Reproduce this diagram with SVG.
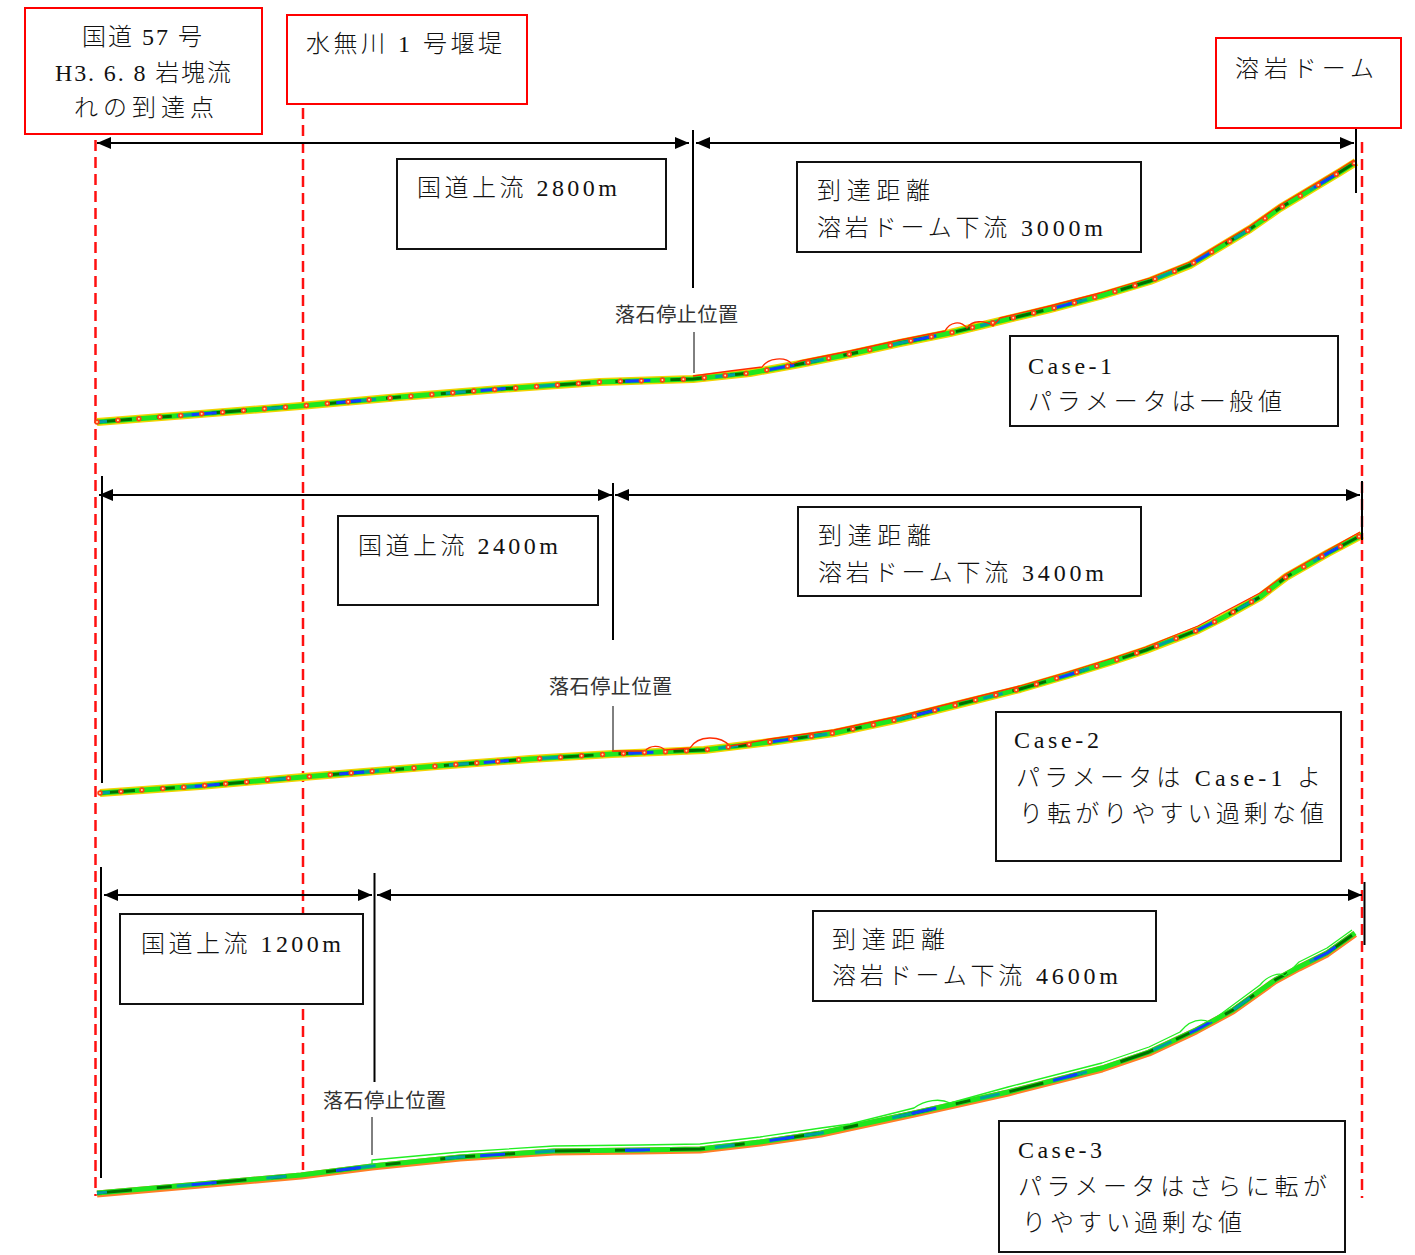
<svg xmlns="http://www.w3.org/2000/svg" xmlns:xlink="http://www.w3.org/1999/xlink" width="1415" height="1255" viewBox="0 0 1415 1255">
<style>
.t{font-family:"Liberation Serif","Noto Sans CJK JP",serif;font-size:24px;font-weight:300;fill:#111;}
.s{font-family:"Noto Sans CJK JP",sans-serif;font-size:20px;fill:#333;}
.rb{fill:#fff;stroke:#ff0000;stroke-width:2;}
.bb{fill:#fff;stroke:#111;stroke-width:2;}
.dash{stroke:#ff1010;stroke-width:2.5;stroke-dasharray:11 6;fill:none;}
.ar{stroke:#000;stroke-width:2;fill:none;marker-start:url(#ah);marker-end:url(#ah);}
.vl{stroke:#000;stroke-width:2;fill:none;}
.ld{stroke:#000;stroke-width:1;fill:none;}
.pf{fill:none;stroke-linejoin:round;}
.y{stroke:#f2d400;stroke-width:8;}
.g{stroke:#1ee61e;stroke-width:5;}
.dg{stroke:#007000;stroke-width:3;stroke-dasharray:35 25 15 40;}
.tl{stroke:#00a0a0;stroke-width:3;stroke-dasharray:20 70;stroke-dashoffset:10;}
.bl{stroke:#1040ff;stroke-width:3;stroke-dasharray:25 120;stroke-dashoffset:50;}
.d1{stroke:#ff4010;stroke-width:5.5;stroke-linecap:round;stroke-dasharray:0 21;}
.d2{stroke:#ffe8b0;stroke-width:2;stroke-linecap:round;stroke-dasharray:0 21;}
.rl{stroke:#ff2a00;stroke-width:1.3;}
.or{stroke:#ff7f27;stroke-width:7;}
.gl{stroke:#22ee22;stroke-width:1.3;}
</style>
<defs>
<marker id="ah" viewBox="0 0 14 12" refX="14" refY="6" markerWidth="14" markerHeight="12" markerUnits="userSpaceOnUse" orient="auto-start-reverse">
<path d="M0,0 L14,6 L0,12 z" fill="#000"/>
</marker>
<path id="p1" d="M97,422 L200,414 L300,406 L400,397 L500,389 L600,382 L693,379 L750,373 L800,364 L850,354 L900,343 L950,333 L1000,321 L1050,309 L1100,296 L1150,281 L1190,265 L1220,247 L1250,229 L1280,208 L1310,190 L1340,172 L1356,162"/>
<path id="p2" d="M100,793 L200,786 L303,777 L437,766 L530,759 L612,754 L704,750 L770,742 L834,733 L900,719 L964,703 L1020,689 L1068,675 L1110,662 L1146,650 L1198,630 L1224,617 L1260,597 L1286,577 L1328,553 L1362,535"/>
<path id="p3" d="M97,1193 L200,1184 L301,1175 L372,1166 L460,1157 L554,1151 L640,1150 L700,1149 L760,1142 L821,1133 L914,1113 L1008,1092 L1102,1068 L1149,1052 L1196,1030 L1233,1010 L1275,980 L1299,967 L1327,953 L1355,933"/>
</defs>
<rect width="1415" height="1255" fill="#fff"/>

<g id="guides">
<line class="dash" x1="95.5" y1="140" x2="95.5" y2="1196"/>
<line class="dash" x1="303" y1="108" x2="303" y2="1170"/>
<line class="dash" x1="1362" y1="142" x2="1362" y2="1198"/>
</g>

<g id="profile-1" class="pf">
<use xlink:href="#p1" class="y"/>
<use xlink:href="#p1" class="g"/>
<use xlink:href="#p1" class="dg"/>
<use xlink:href="#p1" class="tl"/>
<use xlink:href="#p1" class="bl"/>
<path class="rl" d="M693,376 L730,371 L762,367 C768,358 785,356 792,364 L800,361 L850,351 L900,340 L945,331 C950,322 960,320 967,328 C972,320 985,320 993,326 L1000,318 L1050,306 L1100,293 L1150,278 L1190,262 L1220,244 L1250,226 L1280,205 L1310,187 L1340,169 L1354,160"/>
<use xlink:href="#p1" class="d1"/>
<use xlink:href="#p1" class="d2"/>
</g>

<g id="profile-2" class="pf">
<use xlink:href="#p2" class="y"/>
<use xlink:href="#p2" class="g"/>
<use xlink:href="#p2" class="dg"/>
<use xlink:href="#p2" class="tl"/>
<use xlink:href="#p2" class="bl"/>
<path class="rl" d="M612,751 L645,751 C650,745 660,745 665,750 L690,748 C698,735 720,735 730,746 L770,739 L834,730 L900,716 L964,700 L1020,686 L1068,672 L1110,659 L1146,647 L1198,626 L1224,612 L1260,593 L1286,574 L1328,550 L1360,532"/>
<use xlink:href="#p2" class="d1"/>
<use xlink:href="#p2" class="d2"/>
</g>

<g id="profile-3" class="pf">
<use xlink:href="#p3" class="or" transform="translate(0,1)"/>
<use xlink:href="#p3" class="g"/>
<use xlink:href="#p3" class="dg"/>
<use xlink:href="#p3" class="tl"/>
<use xlink:href="#p3" class="bl"/>
<path class="gl" d="M372,1165 L372,1160 L460,1152 L554,1146 L640,1145 L700,1144 L760,1137 L821,1128 L850,1124 L914,1108 C925,1100 940,1098 950,1103 L1008,1087 L1102,1063 L1149,1047 L1180,1032 C1190,1020 1200,1018 1210,1022 L1233,1005 L1260,985 C1268,975 1280,972 1285,976 L1299,962 L1327,948 L1352,930"/>
</g>

<g id="connectors">
<line class="ar" x1="97" y1="143" x2="689" y2="143"/>
<line class="vl" x1="693" y1="130" x2="693" y2="288"/>
<line class="ar" x1="696" y1="143" x2="1354" y2="143"/>
<line class="vl" x1="1356" y1="129" x2="1356" y2="193"/>
<line class="ld" x1="694" y1="332" x2="694" y2="373"/>

<line class="vl" x1="102" y1="476" x2="102" y2="783"/>
<line class="ar" x1="99" y1="495" x2="612" y2="495"/>
<line class="vl" x1="613" y1="483" x2="613" y2="640"/>
<line class="ar" x1="615" y1="495" x2="1360" y2="495"/>
<line class="vl" x1="1362" y1="481" x2="1362" y2="540"/>
<line class="ld" x1="613" y1="706" x2="613" y2="750"/>

<line class="vl" x1="101" y1="867" x2="101" y2="1178"/>
<line class="ar" x1="104" y1="895" x2="372" y2="895"/>
<line class="vl" x1="374.5" y1="873" x2="374.5" y2="1082"/>
<line class="ar" x1="377" y1="895" x2="1362" y2="895"/>
<line class="vl" x1="1364.5" y1="882" x2="1364.5" y2="945"/>
<line class="ld" x1="372" y1="1117" x2="372" y2="1155"/>
</g>

<g id="node-kokudo57">
<rect class="rb" x="25" y="8" width="237" height="126"/>
<text class="t" x="82" y="45" textLength="120" lengthAdjust="spacing">国道 57 号</text>
<text class="t" x="55" y="81" textLength="176" lengthAdjust="spacing">H3. 6. 8 岩塊流</text>
<text class="t" x="74" y="116" textLength="140" lengthAdjust="spacing">れの到達点</text>
</g>

<g id="node-mizunashi">
<rect class="rb" x="287" y="15" width="240" height="89"/>
<text class="t" x="306" y="52" textLength="196" lengthAdjust="spacing">水無川 1 号堰堤</text>
</g>

<g id="node-dome">
<rect class="rb" x="1216" y="38" width="185" height="90"/>
<text class="t" x="1235" y="77" textLength="139" lengthAdjust="spacing">溶岩ドーム</text>
</g>

<g id="node-up1">
<rect class="bb" x="397" y="159" width="269" height="90"/>
<text class="t" x="417" y="196" textLength="200" lengthAdjust="spacing">国道上流 2800m</text>
</g>

<g id="node-dist1">
<rect class="bb" x="797" y="162" width="344" height="90"/>
<text class="t" x="817" y="199" textLength="113" lengthAdjust="spacing">到達距離</text>
<text class="t" x="817" y="236" textLength="286" lengthAdjust="spacing">溶岩ドーム下流 3000m</text>
</g>

<g id="node-stop1">
<text class="s" x="615" y="322" textLength="123" lengthAdjust="spacing">落石停止位置</text>
</g>

<g id="node-case1">
<rect class="bb" x="1010" y="336" width="328" height="90"/>
<text class="t" x="1028" y="374" textLength="84" lengthAdjust="spacing">Case-1</text>
<text class="t" x="1028" y="410" textLength="254" lengthAdjust="spacing">パラメータは一般値</text>
</g>

<g id="node-up2">
<rect class="bb" x="338" y="516" width="260" height="89"/>
<text class="t" x="358" y="554" textLength="200" lengthAdjust="spacing">国道上流 2400m</text>
</g>

<g id="node-dist2">
<rect class="bb" x="798" y="507" width="343" height="89"/>
<text class="t" x="818" y="544" textLength="113" lengthAdjust="spacing">到達距離</text>
<text class="t" x="818" y="581" textLength="286" lengthAdjust="spacing">溶岩ドーム下流 3400m</text>
</g>

<g id="node-stop2">
<text class="s" x="549" y="694" textLength="123" lengthAdjust="spacing">落石停止位置</text>
</g>

<g id="node-case2">
<rect class="bb" x="996" y="712" width="345" height="149"/>
<text class="t" x="1014" y="748" textLength="85" lengthAdjust="spacing">Case-2</text>
<text class="t" x="1016" y="786" textLength="305" lengthAdjust="spacing">パラメータは Case-1 よ</text>
<text class="t" x="1019" y="822" textLength="305" lengthAdjust="spacing">り転がりやすい過剰な値</text>
</g>

<g id="node-up3">
<rect class="bb" x="120" y="914" width="243" height="90"/>
<text class="t" x="141" y="952" textLength="200" lengthAdjust="spacing">国道上流 1200m</text>
</g>

<g id="node-dist3">
<rect class="bb" x="813" y="911" width="343" height="90"/>
<text class="t" x="832" y="948" textLength="113" lengthAdjust="spacing">到達距離</text>
<text class="t" x="832" y="984" textLength="286" lengthAdjust="spacing">溶岩ドーム下流 4600m</text>
</g>

<g id="node-stop3">
<text class="s" x="323" y="1108" textLength="123" lengthAdjust="spacing">落石停止位置</text>
</g>

<g id="node-case3">
<rect class="bb" x="999" y="1121" width="346" height="131"/>
<text class="t" x="1018" y="1158" textLength="84" lengthAdjust="spacing">Case-3</text>
<text class="t" x="1018" y="1195" textLength="309" lengthAdjust="spacing">パラメータはさらに転が</text>
<text class="t" x="1022" y="1231" textLength="220" lengthAdjust="spacing">りやすい過剰な値</text>
</g>
</svg>
